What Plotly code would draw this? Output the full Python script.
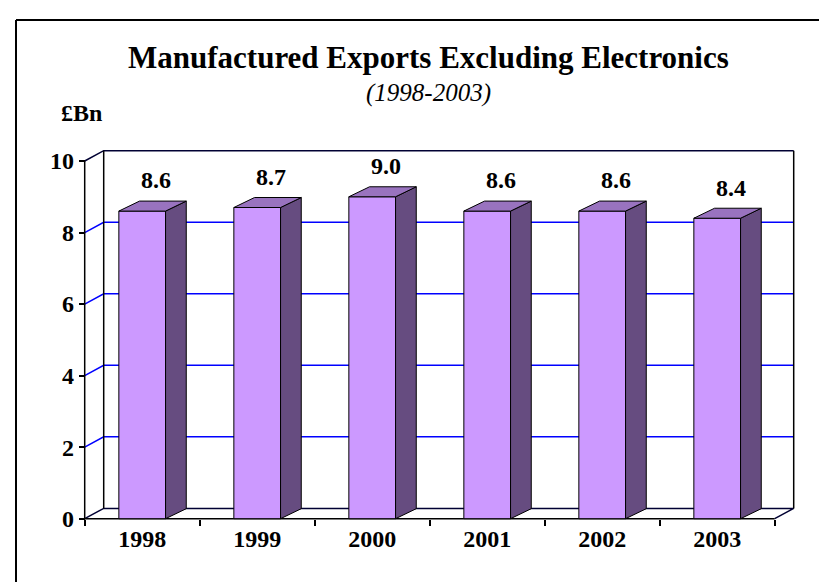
import plotly.graph_objects as go

# ---------------- data ----------------
years = ["1998", "1999", "2000", "2001", "2002", "2003"]
values = [8.6, 8.7, 9.0, 8.6, 8.6, 8.4]
y_ticks = [0, 2, 4, 6, 8, 10]
title_text = "Manufactured Exports Excluding Electronics"
subtitle_text = "(1998-2003)"
unit_text = "£Bn"

# ---------------- geometry (pixels) ----------------
W, H = 827, 582
FRONT_X0 = 76.7      # px of front y-axis (left edge of category 0)
CAT_W = 115.0        # px per category
FRONT_Y0 = 510.7     # px of value 0 on the front plane
UNIT = 35.77         # px per 1 unit of value
WALL_DX, WALL_DY = 19.0 / CAT_W, 10.3 / UNIT   # depth of walls (data units)
BAR_DX, BAR_DY = 20.7 / CAT_W, 10.0 / UNIT     # depth of bars (data units)
BAR_W = 46.7 / CAT_W
LABEL_DX = 0.12
LABEL_DY = 0.80

FONT = "Liberation Serif, Times New Roman, serif"
FRONT_C = "#CC99FF"
TOP_C = "#9973BF"
SIDE_C = "#664C80"

x_range = [-0.5 - FRONT_X0 / CAT_W, -0.5 + (W - FRONT_X0) / CAT_W]
y_range = [-(H - FRONT_Y0) / UNIT, FRONT_Y0 / UNIT]

n = len(years)
xs = list(range(n))
x_left = -0.5
x_right = n - 0.5
ymax = y_ticks[-1]

fig = go.Figure()

# front faces (bars)
fig.add_trace(go.Bar(
    x=xs, y=values, width=BAR_W, base=0,
    marker=dict(color=FRONT_C, line=dict(color="black", width=1)),
    showlegend=False, hoverinfo="skip",
))

# side and top faces
for i, v in enumerate(values):
    r = i + BAR_W / 2
    l = i - BAR_W / 2
    fig.add_trace(go.Scatter(
        x=[r, r, r + BAR_DX, r + BAR_DX, r],
        y=[0, v, v + BAR_DY, BAR_DY, 0],
        mode="lines", fill="toself", fillcolor=SIDE_C,
        line=dict(color="black", width=1), showlegend=False, hoverinfo="skip",
    ))
    fig.add_trace(go.Scatter(
        x=[l, r, r + BAR_DX, l + BAR_DX, l],
        y=[v, v, v + BAR_DY, v + BAR_DY, v],
        mode="lines", fill="toself", fillcolor=TOP_C,
        line=dict(color="black", width=1), showlegend=False, hoverinfo="skip",
    ))

# value labels
fig.add_trace(go.Scatter(
    x=[i + LABEL_DX for i in xs], y=[v + LABEL_DY for v in values],
    text=[f"<b>{v:.1f}</b>" for v in values], mode="text",
    textposition="middle center",
    textfont=dict(family=FONT, size=24, color="black"),
    showlegend=False, hoverinfo="skip", xaxis="x2", yaxis="y",
))

shapes = []
def path_shape(pts, color, width):
    d = "M " + " L ".join(f"{px},{py}" for px, py in pts)
    return dict(type="path", path=d, xref="x", yref="y", layer="below",
                line=dict(color=color, width=width))

# gridlines on side + back wall
for t in y_ticks[1:-1]:
    shapes.append(path_shape([(x_left, t), (x_left + WALL_DX, t + WALL_DY),
                              (x_right + WALL_DX, t + WALL_DY)], "#0000FF", 1.5))
# floor
shapes.append(path_shape([(x_left, 0), (x_left + WALL_DX, WALL_DY),
                          (x_right + WALL_DX, WALL_DY), (x_right, 0)], "#000033", 1.5))
# top of walls
shapes.append(path_shape([(x_left, ymax), (x_left + WALL_DX, ymax + WALL_DY),
                          (x_right + WALL_DX, ymax + WALL_DY)], "#000033", 1.5))
# back wall vertical edges
shapes.append(path_shape([(x_left + WALL_DX, WALL_DY), (x_left + WALL_DX, ymax + WALL_DY)], "black", 1.5))
shapes.append(path_shape([(x_right + WALL_DX, WALL_DY), (x_right + WALL_DX, ymax + WALL_DY)], "black", 1.5))
# front axis line and front floor edge
shapes.append(path_shape([(x_left, ymax), (x_left, 0), (x_right, 0)], "black", 1.5))

# outer border (left and top visible)
shapes.append(dict(type="line", xref="paper", yref="paper",
                   x0=8 / W, x1=1.01, y0=1 - 12 / H, y1=1 - 12 / H,
                   line=dict(color="black", width=2)))
shapes.append(dict(type="line", xref="paper", yref="paper",
                   x0=8 / W, x1=8 / W, y0=1 - 12 / H, y1=-0.01,
                   line=dict(color="black", width=2)))

annotations = [
    dict(text=f"<b>{title_text}</b>", x=420 / W, y=1 - 49 / H, xref="paper", yref="paper",
         xanchor="center", yanchor="middle", showarrow=False,
         font=dict(family=FONT, size=31, color="black")),
    dict(text=f"<i>{subtitle_text}</i>", x=421 / W, y=1 - 84.5 / H, xref="paper", yref="paper",
         xanchor="center", yanchor="middle", showarrow=False,
         font=dict(family=FONT, size=25, color="black")),
    dict(text=f"<b>{unit_text}</b>", x=73.5 / W, y=1 - 104.5 / H, xref="paper", yref="paper",
         xanchor="center", yanchor="middle", showarrow=False,
         font=dict(family=FONT, size=24, color="black")),
]

axis_pos_y = (H - FRONT_Y0) / H
fig.update_layout(
    width=W, height=H, autosize=False,
    margin=dict(l=0, r=0, t=0, b=0),
    paper_bgcolor="white", plot_bgcolor="white",
    showlegend=False,
    xaxis=dict(range=x_range, anchor="free", position=axis_pos_y,
               tickmode="array", tickvals=[i - 0.5 for i in range(n + 1)],
               ticks="outside", ticklen=6, tickwidth=1.5, tickcolor="black",
               showticklabels=False, showgrid=False, zeroline=False, showline=False),
    xaxis2=dict(range=x_range, overlaying="x", anchor="free", position=axis_pos_y,
                side="bottom", tickmode="array", tickvals=xs,
                ticktext=[f"<b>{y}</b>" for y in years],
                ticks="", showgrid=False, zeroline=False, showline=False,
                tickfont=dict(family=FONT, size=24, color="black"),
                ticklabelstandoff=3),
    yaxis=dict(range=y_range, anchor="free", position=FRONT_X0 / W,
               tickmode="array", tickvals=y_ticks,
               ticktext=[f"<b>{t}</b>" for t in y_ticks],
               ticks="outside", ticklen=6, tickwidth=1.5, tickcolor="black",
               showgrid=False, zeroline=False, showline=False,
               tickfont=dict(family=FONT, size=24, color="black")),
    shapes=shapes, annotations=annotations,
)

fig.write_html("out.html")
